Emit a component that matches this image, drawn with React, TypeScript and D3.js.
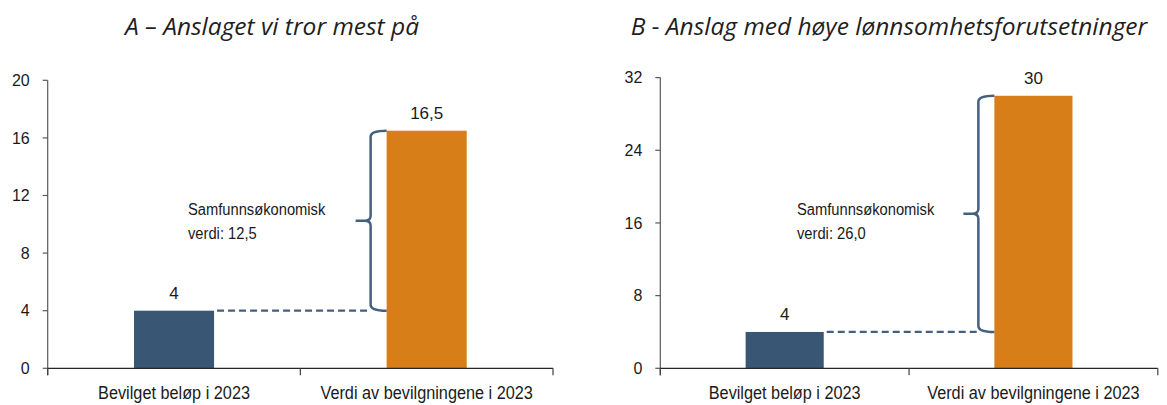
import React from "react";
import * as d3 from "d3";

const categories = ["Bevilget beløp i 2023", "Verdi av bevilgningene i 2023"];
const valuesA = [4, 16.5];
const valuesB = [4, 30];
const labelsA = ["4", "16,5"];
const labelsB = ["4", "30"];
const ticksA = [0, 4, 8, 12, 16, 20];
const ticksB = [0, 8, 16, 24, 32];
const titleA = "A – Anslaget vi tror mest på";
const titleB = "B - Anslag med høye lønnsomhetsforutsetninger";
const noteA = ["Samfunnsøkonomisk", "verdi: 12,5"];
const noteB = ["Samfunnsøkonomisk", "verdi: 26,0"];

const BLUE = "#3A5675";
const ORANGE = "#D87E18";
const BRACE = "#44607F";
const SANS = "'Liberation Sans', Arial, sans-serif";

type PanelProps = {
  values: number[];
  labels: string[];
  ticks: number[];
  title: string;
  note: string[];
  x0: number;
  x1: number;
  yTop: number;
  yBase: number;
  titleX: number;
  noteX: number;
  padding: number;
};

function Panel(p: PanelProps) {
  const yMax = p.ticks[p.ticks.length - 1];
  const y = d3.scaleLinear().domain([0, yMax]).range([p.yBase, p.yTop]);
  const x = d3
    .scaleBand<string>()
    .domain(categories)
    .range([p.x0, p.x1])
    .paddingInner(p.padding)
    .paddingOuter(p.padding / 2);
  const bw = x.bandwidth();
  const b1x = x(categories[0])!;
  const b2x = x(categories[1])!;
  const yLow = y(p.values[0]);
  const yHigh = y(p.values[1]);
  const yMid = (yLow + yHigh) / 2;
  const xv = b2x - 16;
  const xt = b2x - 31;
  const r = 6;
  const path = d3.path();
  path.moveTo(b2x, yHigh);
  path.quadraticCurveTo(xv, yHigh, xv, yHigh + r);
  path.lineTo(xv, yMid - 5);
  path.quadraticCurveTo(xv, yMid, xv - 6, yMid);
  path.lineTo(xt, yMid);
  path.moveTo(xt, yMid);
  path.lineTo(xv - 6, yMid);
  path.quadraticCurveTo(xv, yMid, xv, yMid + 5);
  path.lineTo(xv, yLow - r);
  path.quadraticCurveTo(xv, yLow, b2x, yLow);

  const step = x.step();
  const bottomTicks = [p.x0, p.x0 + step, p.x1];

  return (
    <g>
      <text
        x={p.titleX}
        y={35}
        textAnchor="middle"
        fontFamily="'Open Sans', Lato, sans-serif"
        fontStyle="italic"
        fontSize={24.5}
        fill="#1f1f1f"
      >
        {p.title}
      </text>
      {/* y axis */}
      <line x1={p.x0} x2={p.x0} y1={y(yMax)} y2={p.yBase + 7} stroke="#595959" strokeWidth={1.2} />
      {p.ticks.map((t) => (
        <g key={t}>
          <line x1={p.x0 - 5} x2={p.x0} y1={y(t)} y2={y(t)} stroke="#595959" strokeWidth={1.2} />
          <text
            x={p.x0 - 18}
            y={y(t)}
            dy="0.35em"
            textAnchor="end"
            fontFamily={SANS}
            fontSize={16}
            fill="#1a1a1a"
          >
            {t}
          </text>
        </g>
      ))}
      {/* bars */}
      {p.values.map((v, i) => (
        <rect
          key={i}
          x={x(categories[i])!}
          y={y(v)}
          width={bw}
          height={p.yBase - y(v)}
          fill={i === 0 ? BLUE : ORANGE}
        />
      ))}
      {/* value labels */}
      {p.values.map((v, i) => (
        <text
          key={i}
          x={x(categories[i])! + bw / 2}
          y={y(v) - 12}
          textAnchor="middle"
          fontFamily={SANS}
          fontSize={17}
          fill="#1a1a1a"
        >
          {p.labels[i]}
        </text>
      ))}
      {/* x axis */}
      <line x1={p.x0} x2={p.x1} y1={p.yBase} y2={p.yBase} stroke="#262626" strokeWidth={1.3} />
      {bottomTicks.map((t, i) => (
        <line key={i} x1={t} x2={t} y1={p.yBase} y2={p.yBase + 7} stroke="#404040" strokeWidth={1.2} />
      ))}
      {categories.map((c) => (
        <text
          key={c}
          transform={`translate(${x(c)! + bw / 2},399) scale(0.88,1)`}
          textAnchor="middle"
          fontFamily={SANS}
          fontSize={18.5}
          fill="#1a1a1a"
        >
          {c}
        </text>
      ))}
      {/* dashed connector */}
      <line
        x1={b1x + bw + 3}
        x2={xv}
        y1={yLow}
        y2={yLow}
        stroke={BRACE}
        strokeWidth={2.3}
        strokeDasharray="7 4"
      />
      {/* brace */}
      <path d={path.toString()} fill="none" stroke={BRACE} strokeWidth={2.5} />
      {/* annotation */}
      <text transform={`translate(${p.noteX},215) scale(0.92,1)`} fontFamily={SANS} fontSize={16} fill="#1a1a1a">
        {p.note[0]}
      </text>
      <text transform={`translate(${p.noteX},238.5) scale(0.92,1)`} fontFamily={SANS} fontSize={16} fill="#1a1a1a">
        {p.note[1]}
      </text>
    </g>
  );
}

export default function App() {
  return (
    <svg
      width={1167}
      height={405}
      style={{ position: "absolute", left: 0, top: 0, background: "#fff" }}
    >
      <rect width={1167} height={405} fill="#fff" />
      <Panel
        values={valuesA}
        labels={labelsA}
        ticks={ticksA}
        title={titleA}
        note={noteA}
        x0={47.7}
        x1={553}
        yTop={80.3}
        yBase={368.3}
        titleX={272}
        noteX={188}
        padding={0.683}
      />
      <Panel
        values={valuesB}
        labels={labelsB}
        ticks={ticksB}
        title={titleB}
        note={noteB}
        x0={660.3}
        x1={1157.8}
        yTop={77.6}
        yBase={368.3}
        titleX={889}
        noteX={797}
        padding={0.686}
      />
    </svg>
  );
}
